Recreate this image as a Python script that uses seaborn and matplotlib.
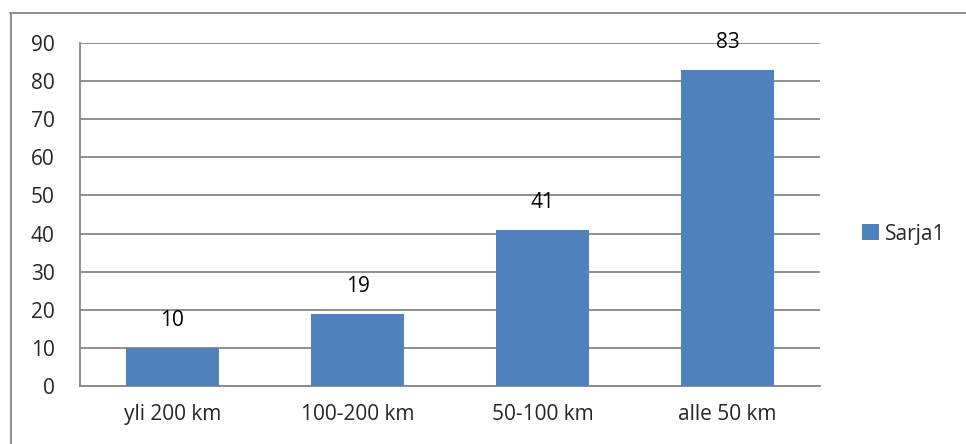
import matplotlib
matplotlib.use("Agg")
import matplotlib.pyplot as plt
import seaborn as sns
import pandas as pd
from matplotlib.lines import Line2D
from matplotlib.patches import Patch

categories = ["yli 200 km", "100-200 km", "50-100 km", "alle 50 km"]
values = [10, 19, 41, 83]
series_name = "Sarja1"
y_ticks = [0, 10, 20, 30, 40, 50, 60, 70, 80, 90]

sns.set_style("white")
plt.rcParams["font.family"] = ["Open Sans", "DejaVu Sans"]

bar_color = "#4F81BD"
grid_color = "#868686"
fs = 15

W, H = 966, 444
fig = plt.figure(figsize=(W / 100, H / 100), dpi=100)
ax = fig.add_axes([80 / W, (H - 386) / H, 740 / W, (386 - 43) / H])

df = pd.DataFrame({"category": categories, "value": values})
sns.barplot(data=df, x="category", y="value", color=bar_color, width=0.5,
            saturation=1, linewidth=0, ax=ax, zorder=3)

ax.set_xlim(-0.5, len(categories) - 0.5)
ax.set_ylim(0, 90)
ax.set_yticks(y_ticks)
ax.set_yticklabels([str(t) for t in y_ticks], fontsize=fs)
ax.set_xlabel("")
ax.set_ylabel("")
ax.tick_params(axis="x", which="major", length=0, pad=13, labelsize=fs)
ax.tick_params(axis="y", length=5.8, width=1.3, color=grid_color, pad=12.5)

# category boundary ticks below the x axis
ax.set_xticks([i - 0.5 for i in range(len(categories) + 1)], minor=True)
ax.tick_params(axis="x", which="minor", length=5.5, width=1.3, color=grid_color,
               direction="out")

ax.yaxis.grid(True, color=grid_color, linewidth=1.3, zorder=0)
ax.set_axisbelow(True)
for side in ["top", "right"]:
    ax.spines[side].set_visible(False)
for side in ["left", "bottom"]:
    ax.spines[side].set_color(grid_color)
    ax.spines[side].set_linewidth(1.3)

for i, v in enumerate(values):
    ax.annotate(str(v), xy=(i, v), xytext=(0, 19.5), textcoords="offset points",
                ha="center", va="center", fontsize=fs, color="black")

handle = Patch(facecolor=bar_color, edgecolor="none")
fig.legend([handle], [series_name], loc="center left",
           bbox_to_anchor=(862 / W, (H - 234) / H), frameon=False,
           borderaxespad=0, borderpad=0,
           fontsize=fs, handlelength=0.8, handleheight=0.8, handletextpad=0.3)

# chart frame
fig.add_artist(Line2D([10 / W, 1], [(H - 13.5) / H] * 2, color=grid_color,
                      linewidth=1.3, transform=fig.transFigure))
fig.add_artist(Line2D([10.5 / W] * 2, [0, (H - 13.5) / H], color=grid_color,
                      linewidth=1.3, transform=fig.transFigure))

fig.savefig("out.png", dpi=100)
